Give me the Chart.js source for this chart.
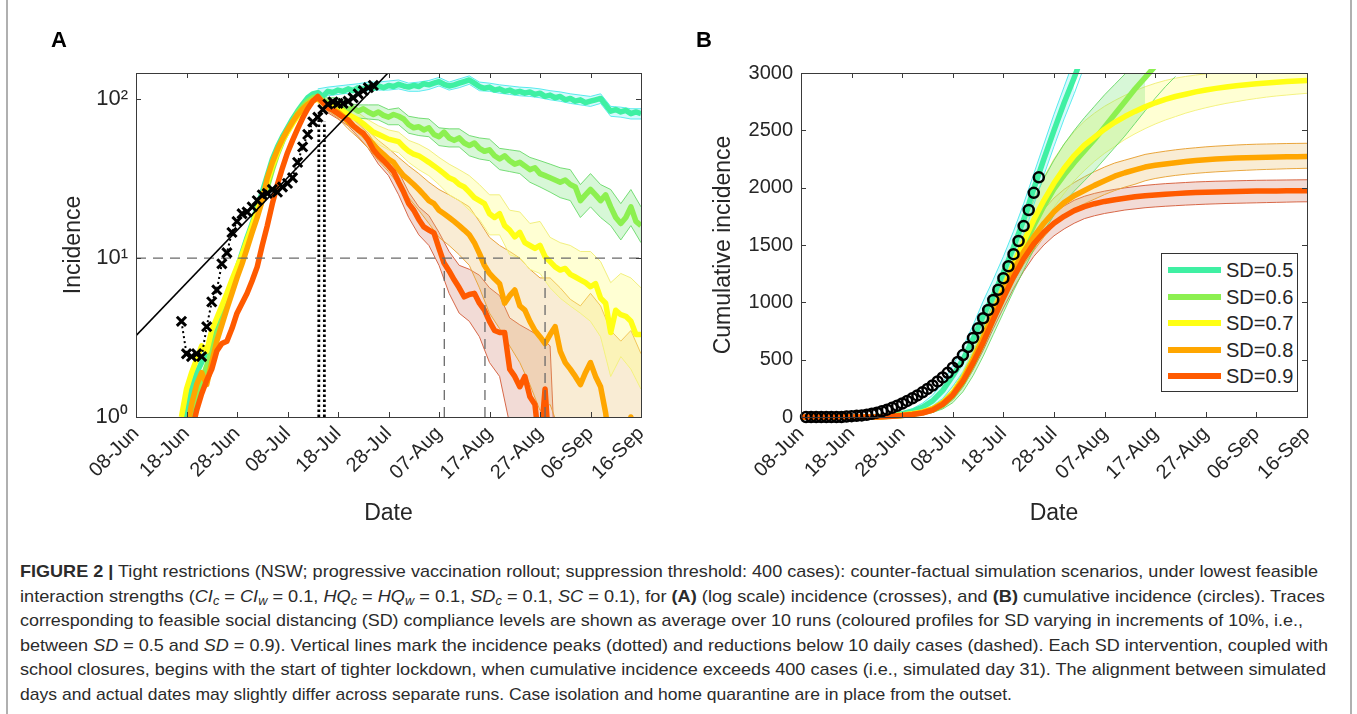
<!DOCTYPE html>
<html><head><meta charset="utf-8">
<script src="https://cdn.jsdelivr.net/npm/chart.js@4.4.0/dist/chart.umd.min.js"></script>
<style>
html,body{margin:0;padding:0;background:#fff;}
body{width:1357px;height:714px;overflow:hidden;position:relative;font-family:'Liberation Sans',Arial,Helvetica,sans-serif;}
.wrap{position:absolute;top:0;}
#wrapA{left:0;width:680px;height:540px;}
#wrapB{left:680px;width:677px;height:540px;}
.plab{position:absolute;font-weight:bold;font-size:22px;color:#000;top:27px;}
#legend{position:absolute;left:1161px;top:253px;width:135px;height:137px;border:1px solid #333;background:#fff;z-index:5;}
.lrow{position:absolute;left:0;width:135px;height:26px;}
.lsw{position:absolute;left:6px;top:10px;width:53px;height:6px;}
.ltx{position:absolute;left:64px;top:0;font-size:20px;line-height:26px;color:#262626;white-space:nowrap;}
.cap{position:absolute;left:20px;white-space:nowrap;font-size:17px;line-height:24px;color:#2b2b2b;transform-origin:0 50%;}
.cap sub{font-size:70%;vertical-align:-3px;line-height:0;}
.frame{position:absolute;top:0;bottom:0;width:2px;background:#b0b0b0;}
</style>
</head><body>
<div class="frame" style="left:6px"></div>
<div class="frame" style="left:1350px"></div>
<div class="wrap" id="wrapA"><canvas id="chartA" width="680" height="540"></canvas></div>
<div class="wrap" id="wrapB"><canvas id="chartB" width="677" height="540"></canvas></div>
<div class="plab" style="left:51px">A</div>
<div class="plab" style="left:696px">B</div>
<div id="legend"></div>

<div class="cap" data-w="1298" style="top:560px"><b>FIGURE 2 |</b> Tight restrictions (NSW; progressive vaccination rollout; suppression threshold: 400 cases): counter-factual simulation scenarios, under lowest feasible</div>
<div class="cap" data-w="1305" style="top:585px">interaction strengths (<i>CI<sub>c</sub></i> = <i>CI<sub>w</sub></i> = 0.1, <i>HQ<sub>c</sub></i> = <i>HQ<sub>w</sub></i> = 0.1, <i>SD<sub>c</sub></i> = 0.1, <i>SC</i> = 0.1), for <b>(A)</b> (log scale) incidence (crosses), and <b>(B)</b> cumulative incidence (circles). Traces</div>
<div class="cap" data-w="1283" style="top:609px">corresponding to feasible social distancing (SD) compliance levels are shown as average over 10 runs (coloured profiles for SD varying in increments of 10%, i.e.,</div>
<div class="cap" data-w="1308" style="top:634px">between <i>SD</i> = 0.5 and <i>SD</i> = 0.9). Vertical lines mark the incidence peaks (dotted) and reductions below 10 daily cases (dashed). Each SD intervention, coupled with</div>
<div class="cap" data-w="1306" style="top:658px">school closures, begins with the start of tighter lockdown, when cumulative incidence exceeds 400 cases (i.e., simulated day 31). The alignment between simulated</div>
<div class="cap" data-w="992" style="top:683px">days and actual dates may slightly differ across separate runs. Case isolation and home quarantine are in place from the outset.</div>

<script>
// ---------------- DATA ----------------
// x positions are days after 08-Jun
const xTickLabels = ['08-Jun','18-Jun','28-Jun','08-Jul','18-Jul','28-Jul','07-Aug','17-Aug','27-Aug','06-Sep','16-Sep'];
const seriesNames = ['SD=0.5','SD=0.6','SD=0.7','SD=0.8','SD=0.9'];
const yTickValsA = [1, 10, 100];
const yTickLabelsA = ['10\u2070', '10\u00B9', '10\u00B2'];

// Panel A: observed daily incidence (crosses), days 9..47
const OBS_START_A = 9;
const obsIncidence = [4.0,2.5,2.4,2.5,2.4,3.7,5.3,6.3,9.2,10.8,14.5,17,19,19.5,21,23,25,25.5,27,26,28,29.5,32,40,50,60,72,77,86,93,96,94,94,97,102,108,113,118,122];

// Panel A: exponential fit line (two end points: day, incidence)
const fitDays = [0, 50];
const fitVals = [3.25, 147];

// Panel A: peak markers (dotted) and below-10 markers (dashed)
const peakDays = [36.2, 37.3];
const peakTops = [74, 72];
const belowTenDays = [61.05, 69.1, 81.0];
const thresholdLevel = 10;

// Panel A: mean simulated incidence, days 9..100
const MEAN_START_A = 9;
const incSD05 = [0.8,1.1,1.5,1.9,2.2,2.6,3.1,3.8,4.6,5.7,7.0,8.6,10.8,13.5,16.5,21,26,33,42,50,58,66,75,84,93,102,108,110,
  104,112,110,114,112,116,113,118,115,120,117,121,118,122,120,124,121,119,122,120,125,123,126,129,124,121,123,126,129,132,
  126,120,117,119,114,116,112,114,110,112,109,111,107,109,104,106,102,104,99,101,97,99,95,97,99,101,92,84,86,83,85,81,83,81];
const incSD06 = [null,0.7,1.0,1.3,1.7,2.1,2.6,3.3,4.0,5.0,6.2,7.8,9.5,12,15,19,23,28,36,45,54,63,72,82,90,97,102,104,
  98,95,92,94,89,86,88,84,87,83,80,83,79,77,80,78,75,69,66,67,64,66,60,58,62,57,55,57,53,51,
  53,49,47,48,44,42,44,41,39,40,38,36,37,34,33,32,31,30,31,29,28,23,25,27,25,23,25,21,18,16.5,18,21,17,16];
const incSD07 = [1.0,1.5,1.9,2.3,2.8,2.6,3.5,4.2,5.0,6.0,7.3,8.8,10.5,13,16,20,24,30,38,46,55,62,70,78,86,93,98,100,
  96,92,93,88,84,80,77,74,70,66,62,60,58,56,55,54,50,47,45,44,42,40,38,36,34,32,31,29,28,26,
  24,23,22,19,18,19,16,15,13.6,14.5,12.5,12,11.5,12,10.2,9.5,8.8,8.4,8.6,7.9,7.6,7.3,7.0,6.6,6.9,5.6,5.2,3.4,4.7,4.4,4.3,4.0,3.3,3.3];
const incSD08 = [null,0.8,1.2,1.6,1.9,1.6,2.2,3.0,3.8,4.8,6.0,7.5,9.2,11.5,14.5,18,23,32,40,48,56,64,72,80,87,93,98,101,
  96,90,86,83,78,72,68,64,60,56,52,48,45,42,40,36,33,31,29,27,25,23,22,20,19,18,17,16,15,14,
  12.5,10.7,9.0,8.0,7.4,6.9,5.2,5.8,6.3,5.0,4.7,4.0,3.5,3.2,2.9,3.3,3.7,2.6,2.2,2.0,1.8,1.6,1.9,2.2,1.8,1.55,1.06,0.6,0.5,0.5,0.6,1.0,0.5,0.5];
const incSD09 = [null,null,0.8,1.1,1.4,1.7,2.0,2.6,2.9,3.0,3.6,4.5,5.2,6.0,7.2,8.8,12,16,22,29,37,46,55,65,76,87,97,104,
  95,88,85,81,77,74,68,64,61,55,48,44,41,38,35,30,26,22,20,17.5,15.7,15,14.4,11.5,9.3,8.3,7.3,6.5,5.7,5.9,
  6.0,5.2,4.7,4.0,3.5,3.4,3.4,2.0,1.8,1.55,1.8,1.34,1.2,0.6,1.5,0.5,null,null,null,null,null,null,null,null,null,null,null,null,null,null,null,null,null,null];

// Panel A: spread over runs (upper / lower), every 2 days from day 36
const BAND_START_A = 36;
const incUpSD05 = [116,119,121,123,125,128,128,130,132,126,128,131,137,128,134,140,128,126,123,121,119,118,116,113,111,108,106,104,108,90,89,87,87];
const incLoSD05 = [104,105,107,109,111,113,114,114,116,112,112,115,121,114,118,124,113,112,109,107,105,104,102,99,97,94,92,90,94,78,77,75,75];
const incUpSD06 = [110,102,102,94,92,92,92,86,88,78,76,75,66,65,65,59,57,56,49,48,47,43,41,39,37,36,29,34,29,27,22,27,21];
const incLoSD06 = [98,88,86,79,76,75,74,69,69,61,59,58,51,50,50,44,42,41,36,35,34,30,28,26,24,23,18,21,18,16,13,16,12.5];
const incUpSD07 = [106,99,96,88,82,74,68,64,62,55,52,48,43,39,36,33,29,25,25,20,19.5,16.5,17,13.5,12.5,12,11,11,9.5,7,8,7.5,6.5];
const incLoSD07 = [94,85,80,72,66,58,52,48,46,40,36,33,29,25,23,20,17.5,14,14,10.5,10,8.5,8,6.5,5.6,5,4.5,4,3.2,1.8,2.4,2,1.5];
const incUpSD08 = [107,96,90,79,71,63,55,49,43,38,34,30,27,25,23,21,17,13.5,12,11,10,8.5,7.5,7.5,6.5,5.5,5,6,5,3.5,3,3.5,2.5];
const incLoSD08 = [95,84,76,65,57,49,41,35,29,24,20,16.5,13.5,12,10.5,9,6.5,4.5,3.6,2.8,2.2,1.6,1.1,1.2,0.8,0.5,0.4,0.6,0.3,0.1,0.1,0.2,0.1];
const incUpSD09 = [110,94,87,80,70,61,49,43,35,26,21,18.5,14.5,11,9,8.5,7.8,6.5,5.8,4.2,3.8,3.5,3.2,2.8,0.1];
const incLoSD09 = [98,82,75,68,58,49,39,33,25,18,14,12,9,6,4.5,4,3.2,2.2,1.8,0.9,0.6,0.5,0.2,0.1,0.1];

// Panel B: observed cumulative incidence (circles), days 1..47
const OBS_START_B = 1;
const obsCumulative = [0,0,0,0,0,0,0,0,4,7,10,14,20,28,38,50,64,80,98,118,140,163,188,215,245,275,310,345,385,430,480,540,610,690,773,861,933,1020,1110,1210,1315,1420,1535,1665,1805,1955,2090];

// Panel B: mean simulated cumulative incidence, every 2 days from day 0
const cumSD05 = [0,0,0,0,0,0,0,2,6,14,28,50,85,140,230,360,500,680,880,1060,1260,1480,1720,1990,2250,2500,2740,2960,3200];
const cumSD06 = [0,0,0,0,0,0,0,0,3,7,14,23,37,60,105,180,300,460,650,860,1070,1280,1480,1670,1840,1990,2110,2220,2320,2420,2530,2640,2750,2860,2960,3060];
const cumSD07 = [0,0,0,0,0,0,0,0,4,9,17,28,44,72,125,210,340,510,700,910,1120,1330,1530,1720,1890,2040,2170,2280,2370,2440,2510,2570,2620,2665,2705,2740,2770,2795,2815,2835,2852,2866,2878,2889,2898,2906,2913,2919,2925,2930,2934];
const cumSD08 = [0,0,0,0,0,0,0,0,3,8,15,25,40,68,120,200,330,500,690,900,1100,1280,1440,1570,1690,1790,1870,1930,1975,2020,2060,2100,2130,2155,2180,2195,2207,2218,2228,2236,2243,2249,2254,2258,2261,2264,2266,2268,2269,2270,2271];
const cumSD09 = [0,0,0,0,0,0,0,0,3,7,13,22,35,60,110,190,310,470,650,850,1040,1220,1380,1510,1610,1690,1750,1800,1835,1860,1880,1895,1908,1920,1930,1937,1943,1948,1953,1957,1960,1963,1965,1967,1969,1970,1971,1972,1973,1974,1974];

// Panel B: spread over runs (upper / lower), every 2 days from day 0
const cumUpSD05 = [0,0,0,0,0,0,0,4,10,22,42,72,120,190,300,450,610,800,1010,1200,1400,1620,1860,2120,2380,2640,2880,3120];
const cumLoSD05 = [0,0,0,0,0,0,0,1,3,8,16,30,55,95,160,270,390,560,750,920,1120,1340,1580,1850,2110,2360,2600,2820,3060];
const cumUpSD06 = [0,0,0,0,0,0,0,0,5,11,20,33,52,85,145,240,380,560,770,1000,1230,1460,1680,1890,2080,2240,2380,2500,2610,2710,2810,2900,2990,3080,3170];
const cumLoSD06 = [0,0,0,0,0,0,0,0,1,3,8,14,24,40,70,125,220,360,530,720,910,1100,1280,1460,1620,1760,1870,1970,2060,2150,2250,2350,2450,2560,2670,2780,2880,2970];
const cumUpSD07 = [0,0,0,0,0,0,0,0,6,13,24,38,60,95,160,260,400,590,800,1030,1260,1490,1710,1910,2090,2250,2380,2490,2580,2650,2710,2760,2805,2845,2880,2910,2935,2955,2970,2982,2992,3000,3006,3010,3013,3015,3016,3017,3018,3019,3020];
const cumLoSD07 = [0,0,0,0,0,0,0,0,2,5,10,18,30,50,90,160,280,430,610,800,990,1180,1360,1530,1690,1830,1950,2060,2150,2230,2300,2360,2420,2470,2515,2555,2590,2620,2650,2675,2697,2717,2735,2750,2765,2778,2790,2800,2808,2816,2823];
const cumUpSD08 = [0,0,0,0,0,0,0,0,5,12,22,35,55,90,150,240,380,560,760,980,1190,1380,1550,1690,1810,1910,1985,2045,2095,2140,2180,2215,2240,2265,2290,2305,2318,2330,2340,2348,2356,2362,2367,2372,2376,2379,2381,2383,2385,2386,2387];
const cumLoSD08 = [0,0,0,0,0,0,0,0,1,4,9,16,27,48,90,160,280,440,620,820,1010,1180,1330,1450,1570,1670,1750,1815,1860,1900,1940,1975,2005,2030,2060,2080,2095,2107,2117,2125,2132,2138,2143,2148,2152,2156,2159,2162,2165,2167,2169];
const cumUpSD09 = [0,0,0,0,0,0,0,0,5,10,18,30,48,80,140,230,360,530,720,930,1130,1310,1470,1600,1700,1780,1840,1890,1925,1950,1970,1985,1998,2010,2020,2028,2035,2040,2045,2050,2053,2056,2058,2060,2062,2064,2065,2066,2067,2068,2069];
const cumLoSD09 = [0,0,0,0,0,0,0,0,1,4,8,14,22,40,80,150,260,410,580,770,950,1120,1270,1400,1500,1580,1640,1690,1730,1755,1775,1790,1805,1815,1825,1832,1838,1843,1848,1852,1856,1859,1862,1864,1866,1868,1870,1872,1874,1876,1877];

// ---------------- STYLE ----------------
const styles = [
  {line:'#3ff0a3', edge:'rgba(60,232,235,0.85)', fill:'rgba(120,240,245,0.30)'},
  {line:'#8cf050', edge:'rgba(95,215,95,0.85)',  fill:'rgba(110,225,110,0.28)'},
  {line:'#ffff14', edge:'rgba(240,238,120,0.95)', fill:'rgba(255,255,140,0.38)'},
  {line:'#ffa600', edge:'rgba(232,160,50,0.95)', fill:'rgba(232,185,100,0.28)'},
  {line:'#ff5a00', edge:'rgba(215,95,60,0.95)',  fill:'rgba(205,110,90,0.25)'}
];
const AX = '#262626';
const FONT = "'Liberation Sans', Arial, Helvetica, sans-serif";
Chart.defaults.font.family = FONT;
Chart.defaults.color = AX;

const pts = (vals, start, step) => vals.map((v, i) => ({x: start + i * step, y: v}));

// legend (HTML)
const legendEl = document.getElementById('legend');
seriesNames.forEach((n, k) => {
  const row = document.createElement('div');
  row.className = 'lrow';
  row.style.top = (3 + k * 26.5) + 'px';
  row.innerHTML = '<div class="lsw" style="background:' + styles[k].line + '"></div><div class="ltx">' + n + '</div>';
  legendEl.appendChild(row);
});

// box + inward ticks (MATLAB style)
const boxPlugin = {
  id: 'matlabBox',
  afterDatasetsDraw(chart) {
    const {ctx, chartArea: a, scales} = chart;
    ctx.save();
    ctx.strokeStyle = '#3a3a3a';
    ctx.lineWidth = 1;
    const L = 5;
    ctx.beginPath();
    scales.x.ticks.forEach(t => {
      const p = Math.round(scales.x.getPixelForValue(t.value)) + 0.5;
      ctx.moveTo(p, a.bottom); ctx.lineTo(p, a.bottom - L);
      ctx.moveTo(p, a.top); ctx.lineTo(p, a.top + L);
    });
    scales.y.ticks.forEach(t => {
      const p = Math.round(scales.y.getPixelForValue(t.value)) + 0.5;
      ctx.moveTo(a.left, p); ctx.lineTo(a.left + L, p);
      ctx.moveTo(a.right, p); ctx.lineTo(a.right - L, p);
    });
    ctx.stroke();
    ctx.strokeRect(Math.round(a.left) + 0.5, Math.round(a.top) + 0.5, Math.round(a.right - a.left), Math.round(a.bottom - a.top));
    ctx.restore();
  }
};

function xScale(height) {
  return {
    type: 'linear', min: 0, max: 100,
    grid: {display: false, drawTicks: false}, border: {display: false},
    ticks: {stepSize: 10, autoSkip: false, minRotation: 45, maxRotation: 45, padding: 5,
      font: {size: 20}, color: AX,
      callback: v => xTickLabels[Math.round(v / 10)]},
    title: {display: true, text: 'Date', font: {size: 23}, color: AX, padding: {top: 0, bottom: 0}},
    afterFit: s => { s.height = height; s.paddingLeft = 0; s.paddingRight = 0; }
  };
}

// ---------------- CHART A ----------------
const meanA = [incSD05, incSD06, incSD07, incSD08, incSD09];
const upA = [incUpSD05, incUpSD06, incUpSD07, incUpSD08, incUpSD09];
const loA = [incLoSD05, incLoSD06, incLoSD07, incLoSD08, incLoSD09];
const dsA = [];
styles.forEach((st, k) => {
  dsA.push({data: pts(upA[k], BAND_START_A, 2), borderColor: st.edge, backgroundColor: st.fill, borderWidth: 1, pointRadius: 0, fill: '+1', order: 60, clip: 0});
  dsA.push({data: pts(loA[k], BAND_START_A, 2), borderColor: st.edge, borderWidth: 1, pointRadius: 0, fill: false, order: 60, clip: 0});
});
styles.forEach((st, k) => {
  dsA.push({data: pts(meanA[k], MEAN_START_A, 1), borderColor: st.line, borderWidth: 5.5, pointRadius: 0, fill: false, order: 50 - k, clip: 0, borderJoinStyle: 'round'});
});
dsA.push({data: [{x: 0, y: thresholdLevel}, {x: 100, y: thresholdLevel}], borderColor: '#6a6a6a', borderWidth: 1.3, borderDash: [10, 7], pointRadius: 0, fill: false, order: 30, clip: 0});
belowTenDays.forEach(d => dsA.push({data: [{x: d, y: 1}, {x: d, y: thresholdLevel}], borderColor: '#6a6a6a', borderWidth: 1.3, borderDash: [10, 7], pointRadius: 0, fill: false, order: 30, clip: 0}));
peakDays.forEach((d, i) => dsA.push({data: [{x: d, y: 1}, {x: d, y: peakTops[i]}], borderColor: '#000', borderWidth: 2.8, borderDash: [2.5, 2.5], pointRadius: 0, fill: false, order: 25, clip: 0}));
dsA.push({data: fitDays.map((d, i) => ({x: d, y: fitVals[i]})), borderColor: '#000', borderWidth: 1.6, pointRadius: 0, fill: false, order: 20, clip: 0});
dsA.push({data: pts(obsIncidence, OBS_START_A, 1), borderColor: '#000', borderWidth: 2, borderDash: [2, 3],
  pointStyle: 'crossRot', pointRadius: 6.5, pointBorderWidth: 3, pointBorderColor: '#000', pointBackgroundColor: '#000', fill: false, order: 10, clip: 8});

new Chart(document.getElementById('chartA'), {
  type: 'line',
  data: {datasets: dsA},
  options: {
    responsive: false, animation: false, events: [],
    layout: {padding: {left: 60, right: 39, top: 73, bottom: 13}},
    elements: {line: {tension: 0}},
    plugins: {legend: {display: false}, tooltip: {enabled: false}},
    scales: {
      x: xScale(110),
      y: {
        type: 'logarithmic', min: 1, max: 146,
        grid: {display: false, drawTicks: false}, border: {display: false},
        afterBuildTicks: s => { s.ticks = yTickValsA.map(v => ({value: v})); },
        ticks: {padding: 8, font: {size: 22}, color: AX,
          callback: v => { const i = yTickValsA.indexOf(v); return i >= 0 ? yTickLabelsA[i] : ''; }},
        title: {display: true, text: 'Incidence', font: {size: 23}, color: AX, padding: {top: 0, bottom: 0}},
        afterFit: s => { s.width = 76; s.paddingTop = 0; s.paddingBottom = 0; }
      }
    }
  },
  plugins: [boxPlugin]
});

// ---------------- CHART B ----------------
const meanB = [cumSD05, cumSD06, cumSD07, cumSD08, cumSD09];
const upB = [cumUpSD05, cumUpSD06, cumUpSD07, cumUpSD08, cumUpSD09];
const loB = [cumLoSD05, cumLoSD06, cumLoSD07, cumLoSD08, cumLoSD09];
const dsB = [];
styles.forEach((st, k) => {
  dsB.push({data: pts(upB[k], 0, 2), borderColor: st.edge, backgroundColor: st.fill, borderWidth: 1, pointRadius: 0, fill: '+1', order: 60, clip: 0});
  dsB.push({data: pts(loB[k], 0, 2), borderColor: st.edge, borderWidth: 1, pointRadius: 0, fill: false, order: 60, clip: 0});
});
styles.forEach((st, k) => {
  dsB.push({data: pts(meanB[k], 0, 2), borderColor: st.line, borderWidth: 5.5, pointRadius: 0, fill: false, order: 50 - k, clip: 4, borderJoinStyle: 'round'});
});
dsB.push({data: pts(obsCumulative, OBS_START_B, 1), showLine: false, pointStyle: 'circle', pointRadius: 5,
  pointBorderWidth: 2.5, pointBorderColor: '#000', pointBackgroundColor: 'rgba(0,0,0,0)', order: 10, clip: 8});

new Chart(document.getElementById('chartB'), {
  type: 'line',
  data: {datasets: dsB},
  options: {
    responsive: false, animation: false, events: [],
    layout: {padding: {left: 30, right: 50, top: 73, bottom: 13}},
    elements: {line: {tension: 0}},
    plugins: {legend: {display: false}, tooltip: {enabled: false}},
    scales: {
      x: xScale(110),
      y: {
        type: 'linear', min: 0, max: 3000,
        grid: {display: false, drawTicks: false}, border: {display: false},
        ticks: {stepSize: 500, padding: 8, font: {size: 20}, color: AX, callback: v => String(v)},
        title: {display: true, text: 'Cumulative incidence', font: {size: 23}, color: AX, padding: {top: 0, bottom: 0}},
        afterFit: s => { s.width = 91; s.paddingTop = 0; s.paddingBottom = 0; }
      }
    }
  },
  plugins: [boxPlugin]
});

// fit caption line widths to the reference layout
document.querySelectorAll('.cap').forEach(el => {
  const w = el.getBoundingClientRect().width;
  const target = parseFloat(el.dataset.w);
  if (w > 0) el.style.transform = 'scaleX(' + (target / w).toFixed(4) + ')';
});
</script>
</body></html>
